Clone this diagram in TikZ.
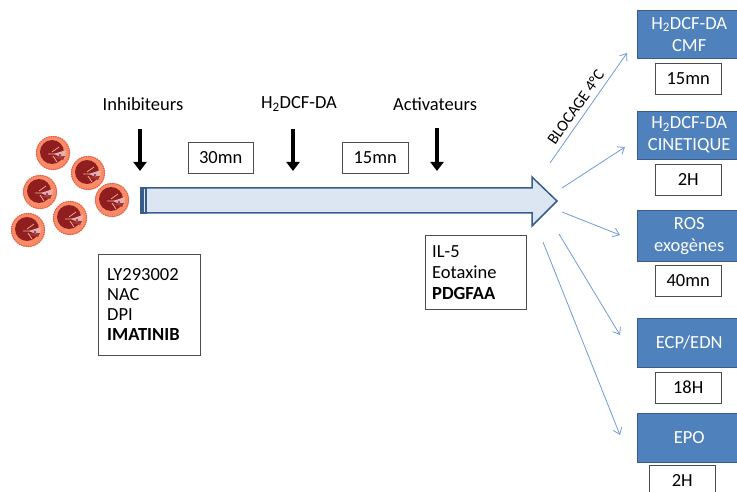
\documentclass[tikz,border=0pt]{standalone}
\usepackage{fontspec}
\setmainfont{Carlito}
\usetikzlibrary{arrows.meta}
\definecolor{boxblue}{RGB}{79,129,189}
\definecolor{boxedge}{RGB}{56,93,138}
\definecolor{shaftfill}{RGB}{220,230,242}
\definecolor{thinblue}{RGB}{110,155,210}
\definecolor{cellskin}{RGB}{248,140,105}
\definecolor{celldot}{RGB}{232,85,60}
\definecolor{nucleus}{RGB}{145,30,30}
\definecolor{nucleuslight}{RGB}{235,175,165}
\definecolor{granule}{RGB}{120,60,170}

\begin{document}
\begin{tikzpicture}[x=1pt, y=-1pt,
  bluebox/.style={draw=boxedge, fill=boxblue, text=white, align=center, minimum width=104pt,
    minimum height=48pt, inner sep=0pt, font=\fontsize{18.5}{22}\selectfont, anchor=north west},
  timebox/.style={draw=black!70, fill=white, minimum width=66pt, minimum height=31pt,
    inner sep=0pt, font=\fontsize{18.5}{22}\selectfont, anchor=north west},
  listbox/.style={draw=black!70, align=left, anchor=north west, inner ysep=0pt},
  steplabel/.style={font=\fontsize{18.5}{22}\selectfont},
  addarrow/.style={line width=4pt, -{Triangle[width=13pt,length=9pt]}},
  fanarrow/.style={draw=thinblue, line width=0.8pt, -{Straight Barb[length=6pt,width=9pt]}}]
\useasboundingbox (0,0) rectangle (737,492);

%cells
  \foreach \cx/\cy in {53/153, 88/173, 40/192, 112/200, 70/218, 28/230}{
    \begin{scope}[shift={(\cx,\cy)}]
      \fill[cellskin] (0,0) circle (17);
      \draw[celldot, line width=1.5pt, dash pattern=on 0.1pt off 2.2pt, line cap=round] (0,0) circle (16.5);
      \fill[nucleus] (-1,-1) circle (12);
      \fill[nucleuslight] (1,1) -- (13,-3) -- (12,6) -- cycle;
      \fill[nucleus!80!cellskin] (-2,4) -- (12,3) -- (10,7) -- cycle;
      \draw[nucleuslight, line width=0.7pt] (-5,1) -- (8,1) (-1,-1) -- (6,-6) (0,3) -- (4,9);
      \fill[granule] (7,2) circle (1.4);
    \end{scope}
  }

%main arrow
  \draw[boxedge, fill=shaftfill, line width=1.5pt, line join=miter]
    (146,188) -- (532,188) -- (532,177) -- (557,201) -- (532,226) -- (532,213) -- (146,213) -- cycle;
  \fill[boxedge] (140,187.25) rectangle (147,213.75);
  \draw[shaftfill, line width=1pt] (144,189) -- (144,212);

%steps
  \node[steplabel] (inhib) at (143,104) {Inhibiteurs};
  \node[steplabel] (probe) at (299,104) {H\textsubscript{2}DCF-DA};
  \node[steplabel] (activ) at (435,104) {Activateurs};

  \coordinate (inhibin) at (140,129);
  \coordinate (inhibout) at (140,171);
  \coordinate (probein) at (293,129);
  \coordinate (probeout) at (293,171);
  \coordinate (activin) at (437,128);
  \coordinate (activout) at (437,171);
  \draw[addarrow] (inhibin) -- (inhibout);
  \draw[addarrow] (probein) -- (probeout);
  \draw[addarrow] (activin) -- (activout);

  \node[timebox, minimum width=65pt] (waitA) at (188,142) {30mn};
  \node[timebox] (waitB) at (342,142) {15mn};

  \node[listbox, minimum width=102pt, minimum height=101pt, inner xsep=9pt, text width=84pt,
    font=\fontsize{18.5}{20}\selectfont] (inhiblist) at (98,254)
    {LY293002\\NAC\\DPI\\\textbf{IMATINIB}};
  \node[listbox, minimum width=101pt, minimum height=74pt, inner xsep=7pt, text width=87pt,
    font=\fontsize{18.5}{21}\selectfont] (activlist) at (425,235)
    {IL-5\\Eotaxine\\\textbf{PDGFAA}};

%readouts
  \node[bluebox] (cmf) at (637,10) {H\textsubscript{2}DCF-DA\\CMF};
  \node[bluebox] (kin) at (637,111) {H\textsubscript{2}DCF-DA\\CINETIQUE};
  \node[bluebox, minimum height=51pt] (ros) at (637,210) {ROS\\exogènes};
  \node[bluebox, minimum height=49pt] (ecp) at (637,318) {ECP/EDN};
  \node[bluebox, minimum height=49pt] (epo) at (637,413) {EPO};

  \node[timebox] (tcmf) at (655,63) {15mn};
  \node[timebox] (tkin) at (655,164) {2H};
  \node[timebox] (tros) at (655,265) {40mn};
  \node[timebox] (tecp) at (655,372) {18H};
  \node[timebox] (tepo) at (649,465) {2H};

%fan
  \coordinate (fanA) at (550,163);
  \coordinate (fanB) at (562,188);
  \coordinate (fanC) at (562,212);
  \coordinate (fanD) at (559,234);
  \coordinate (fanE) at (543,242);
  \coordinate (endA) at (627,53);
  \coordinate (endB) at (625,147);
  \coordinate (endC) at (620,235);
  \coordinate (endD) at (620,335);
  \coordinate (endE) at (620,435);
  \draw[fanarrow] (fanA) -- (endA) node[pos=0.45, sloped, above=5pt, text=black, inner sep=0pt,
    font=\fontsize{16}{18}\selectfont] (block) {BLOCAGE 4°C};
  \draw[fanarrow] (fanB) -- (endB);
  \draw[fanarrow] (fanC) -- (endC);
  \draw[fanarrow] (fanD) -- (endD);
  \draw[fanarrow] (fanE) -- (endE);
\end{tikzpicture}
\end{document}
